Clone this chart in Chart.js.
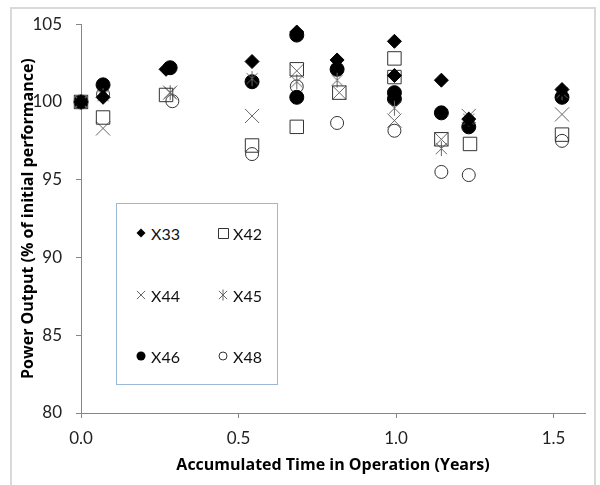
<!DOCTYPE html>
<html>
<head>
<meta charset="utf-8">
<script src="https://cdn.jsdelivr.net/npm/chart.js@4.4.1/dist/chart.umd.min.js"></script>
<style>
  html, body { margin: 0; padding: 0; background: #fff; }
  #wrap { position: relative; width: 600px; height: 485px; overflow: hidden; font-family: Lato, sans-serif; }
  #frame { position: absolute; left: 10px; top: 7px; width: 586px; height: 500px; border: 2px solid #d9d9d9; box-sizing: border-box; }
  #chart { position: absolute; left: 0; top: 0; }
  #legend { position: absolute; left: 116px; top: 203px; width: 162px; height: 182px; border: 1px solid #9bb8d8; box-sizing: border-box; background: #fff; }
  .item { position: absolute; display: flex; align-items: center; font-size: 16px; color: #111; height: 20px; }
  .item canvas { margin-right: 4px; }
</style>
</head>
<body>
<div id="wrap">
  <div id="frame"></div>
  <canvas id="chart" width="600" height="485"></canvas>
  <div id="legend"></div>
</div>
<script>
// series names and marker kinds
const seriesNames = ['X33', 'X42', 'X44', 'X45', 'X46', 'X48'];
const markerKinds = ['diamond', 'square', 'cross', 'star', 'dot', 'ring'];

// accumulated time (years) and power output (% of initial) per module
const x33Time  = [0, 0.07, 0.27, 0.543, 0.685, 0.813, 0.995, 0.995, 1.144, 1.231, 1.527];
const x33Power = [100, 100.3, 102.1, 102.6, 104.5, 102.7, 103.9, 101.7, 101.4, 98.9, 100.8];

const x42Time  = [0, 0.07, 0.27, 0.543, 0.685, 0.685, 0.82, 0.995, 0.995, 1.144, 1.235, 1.527];
const x42Power = [100, 99.0, 100.45, 97.2, 102.1, 98.4, 100.6, 102.8, 101.6, 97.6, 97.3, 97.9];

const x44Time  = [0, 0.07, 0.283, 0.543, 0.685, 0.82, 0.995, 1.144, 1.231, 1.527];
const x44Power = [100, 98.3, 100.6, 99.1, 102.0, 100.6, 98.8, 97.6, 99.1, 99.2];

const x45Time  = [0, 0.07, 0.283, 0.543, 0.685, 0.813, 0.995, 1.144, 1.231, 1.527];
const x45Power = [100, 100.4, 100.6, 101.5, 101.3, 101.4, 99.6, 97.0, 98.9, 100.6];

const x46Time  = [0, 0.07, 0.283, 0.543, 0.685, 0.685, 0.813, 0.995, 0.995, 1.144, 1.231, 1.527];
const x46Power = [100, 101.1, 102.2, 101.3, 104.3, 100.3, 102.1, 100.6, 100.2, 99.3, 98.4, 100.3];

const x48Time  = [0, 0.07, 0.29, 0.543, 0.685, 0.813, 0.995, 1.144, 1.231, 1.527];
const x48Power = [100, 100.5, 100.05, 96.65, 101.0, 98.65, 98.15, 95.5, 95.3, 97.5];

// axis ticks
const xTicks = [0, 0.5, 1.0, 1.5];
const yTicks = [80, 85, 90, 95, 100, 105];

const allTimes = [x33Time, x42Time, x44Time, x45Time, x46Time, x48Time];
const allPowers = [x33Power, x42Power, x44Power, x45Power, x46Power, x48Power];

// draws one marker symbol, used for the star point style and for the legend
function drawMarker(ctx, kind, cx, cy, r) {
  ctx.save();
  ctx.lineWidth = 1;
  ctx.strokeStyle = '#333';
  ctx.fillStyle = '#000';
  ctx.beginPath();
  if (kind === 'diamond') {
    ctx.moveTo(cx, cy - r); ctx.lineTo(cx + r, cy); ctx.lineTo(cx, cy + r); ctx.lineTo(cx - r, cy);
    ctx.closePath(); ctx.fill();
  } else if (kind === 'square') {
    const h = r * 0.8;
    ctx.rect(Math.round(cx - h) + 0.5, Math.round(cy - h) + 0.5, Math.round(2 * h), Math.round(2 * h));
    ctx.stroke();
  } else if (kind === 'cross' || kind === 'star') {
    ctx.strokeStyle = '#666';
    const h = r * 0.75;
    ctx.moveTo(cx - h, cy - h); ctx.lineTo(cx + h, cy + h);
    ctx.moveTo(cx + h, cy - h); ctx.lineTo(cx - h, cy + h);
    if (kind === 'star') { ctx.moveTo(cx, cy - r); ctx.lineTo(cx, cy + r); }
    ctx.stroke();
  } else if (kind === 'dot') {
    ctx.arc(cx, cy, r, 0, Math.PI * 2); ctx.fill();
  } else if (kind === 'ring') {
    ctx.arc(cx, cy, r - 0.5, 0, Math.PI * 2); ctx.stroke();
  }
  ctx.restore();
}

function markerCanvas(kind, size, r) {
  const c = document.createElement('canvas');
  c.width = size; c.height = size;
  drawMarker(c.getContext('2d'), kind, size / 2, size / 2, r);
  return c;
}

const starImage = markerCanvas('star', 17, 7.5);

const pointOpts = {
  diamond: { pointStyle: 'rectRot', pointRadius: 7, backgroundColor: '#000', borderColor: '#000', borderWidth: 1 },
  square:  { pointStyle: 'rect', pointRadius: 9.5, backgroundColor: 'rgba(0,0,0,0)', borderColor: '#333', borderWidth: 1 },
  cross:   { pointStyle: 'crossRot', pointRadius: 10, backgroundColor: '#666', borderColor: '#666', borderWidth: 1 },
  star:    { pointStyle: starImage, pointRadius: 8, backgroundColor: '#666', borderColor: '#666', borderWidth: 1 },
  dot:     { pointStyle: 'circle', pointRadius: 7, backgroundColor: '#000', borderColor: '#000', borderWidth: 1 },
  ring:    { pointStyle: 'circle', pointRadius: 6.5, backgroundColor: 'rgba(0,0,0,0)', borderColor: '#333', borderWidth: 1 }
};

const datasets = seriesNames.map((name, i) => Object.assign({
  label: name,
  data: allTimes[i].map((t, j) => ({ x: t, y: allPowers[i][j] })),
  pointHoverRadius: 7,
  clip: false
}, pointOpts[markerKinds[i]]));

Chart.defaults.font.family = 'Lato';
Chart.defaults.color = '#222';

const titleFont = { family: 'Open Sans', size: 16, weight: 'bold' };

new Chart(document.getElementById('chart'), {
  type: 'scatter',
  data: { datasets },
  options: {
    responsive: false,
    animation: false,
    layout: { padding: { top: 18, right: 15, left: 0, bottom: 10 } },
    plugins: { legend: { display: false }, tooltip: { enabled: false } },
    scales: {
      x: {
        type: 'linear',
        min: 0,
        max: 1.6,
        afterBuildTicks: (s) => { s.ticks = xTicks.map(v => ({ value: v })); },
        afterFit: (s) => { s.height = 62; },
        ticks: { font: { size: 17 }, padding: 10, callback: (v) => v.toFixed(1) },
        grid: { drawOnChartArea: false, drawTicks: true, tickLength: 5, color: '#868686' },
        border: { color: '#868686' },
        title: { display: true, text: 'Accumulated Time in Operation (Years)', font: titleFont, color: '#000', padding: { top: 0, bottom: 0 } }
      },
      y: {
        min: 80,
        max: 105,
        afterBuildTicks: (s) => { s.ticks = yTicks.map(v => ({ value: v })); },
        afterFit: (s) => { s.width = 81; },
        ticks: { font: { size: 17 }, padding: 14 },
        grid: { drawOnChartArea: false, drawTicks: true, tickLength: 5, color: '#868686' },
        border: { color: '#868686' },
        title: { display: true, text: 'Power Output (% of initial performance)', font: titleFont, color: '#000', padding: { top: 19, bottom: 0 } }
      }
    }
  }
});

// legend box, two columns by three rows
const legend = document.getElementById('legend');
const colX = [18, 100];
const rowY = [19, 81, 142];
seriesNames.forEach((name, i) => {
  const item = document.createElement('div');
  item.className = 'item';
  item.style.left = colX[i % 2] + 'px';
  item.style.top = rowY[Math.floor(i / 2)] + 'px';
  const kind = markerKinds[i];
  const r = (kind === 'cross' || kind === 'star') ? 5.5 : (kind === 'square' ? 6 : 4.5);
  item.appendChild(markerCanvas(kind, 12, r));
  const label = document.createElement('span');
  label.textContent = name;
  item.appendChild(label);
  legend.appendChild(item);
});
</script>
</body>
</html>
